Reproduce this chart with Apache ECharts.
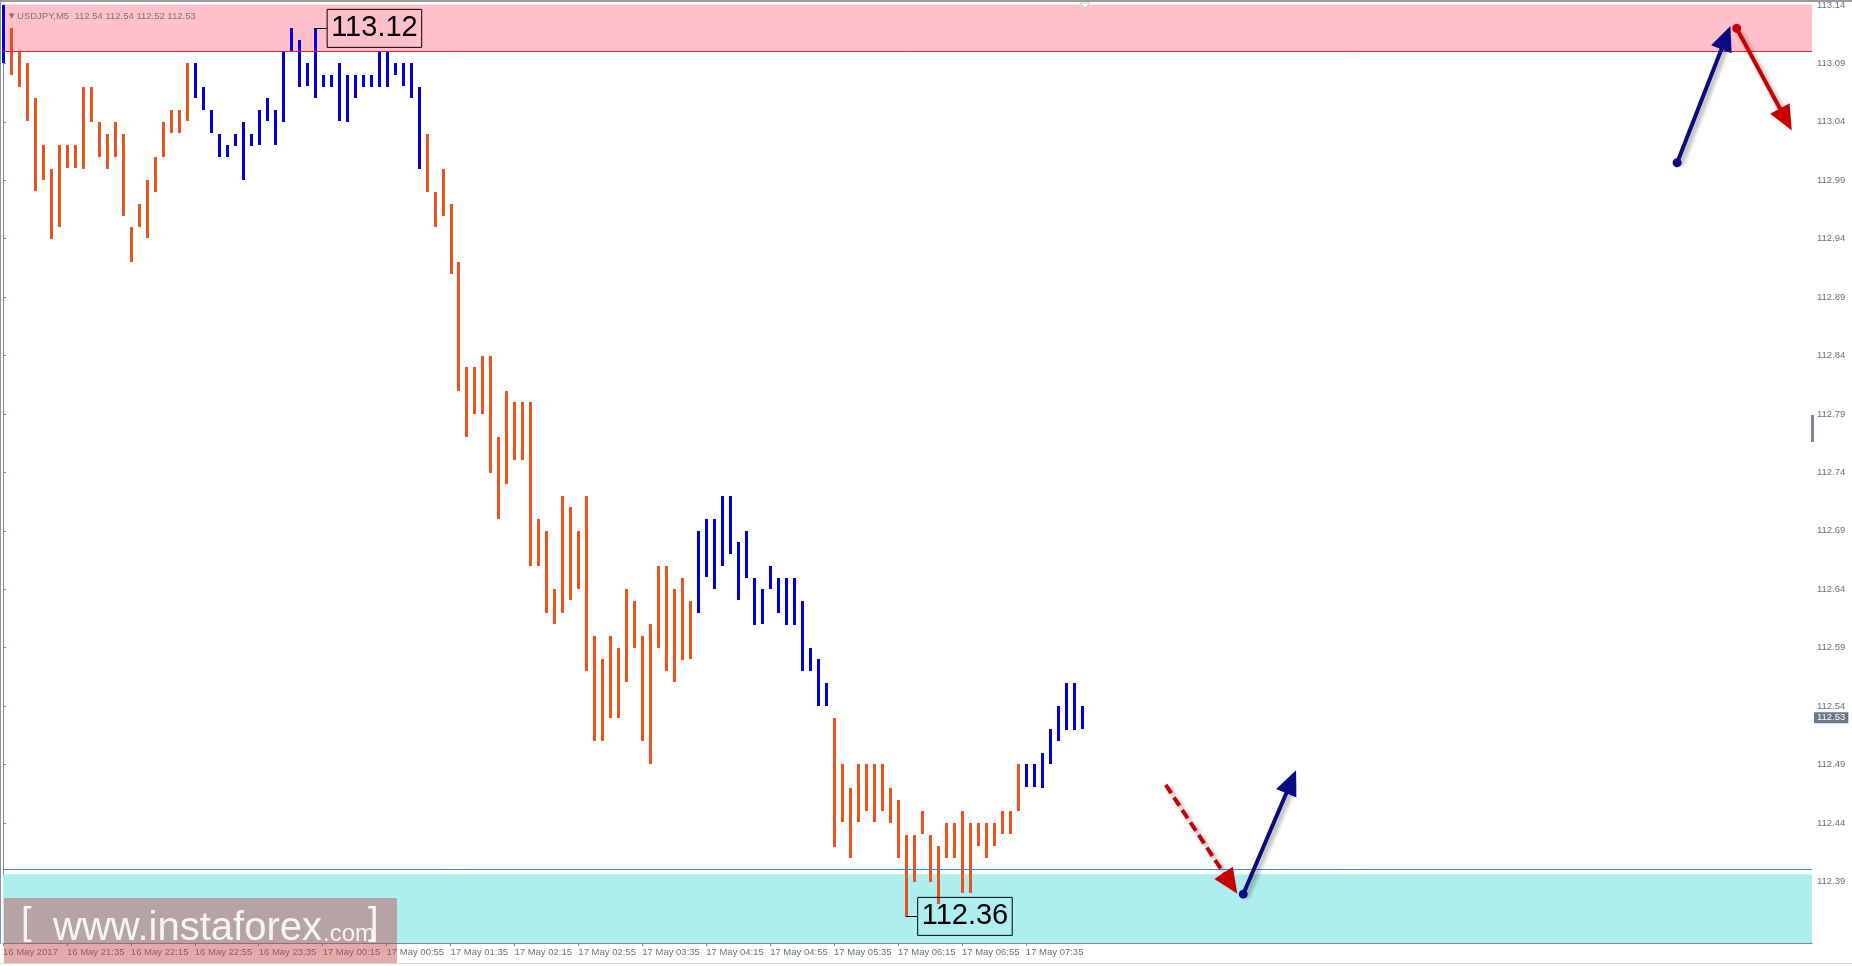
<!DOCTYPE html>
<html>
<head>
<meta charset="utf-8">
<title>USDJPY M5</title>
<script src="https://cdn.jsdelivr.net/npm/echarts@6/dist/echarts.min.js"></script>
<style>
  html, body { margin: 0; padding: 0; background: #fff; }
  #container { width: 1852px; height: 966px; }
</style>
</head>
<body>
<div id="container"></div>
<script>
// M5 bars, index 0 = 16 May 20:55
var highs = [
  113.14, 113.12, 113.10, 113.09, 113.06, 113.02, 113.00, 113.02, 113.02, 113.02,
  113.07, 113.07, 113.04, 113.03, 113.04, 113.03, 112.95, 112.97, 112.99, 113.01,
  113.04, 113.05, 113.05, 113.09, 113.09, 113.07, 113.05, 113.03, 113.02, 113.03,
  113.04, 113.03, 113.05, 113.06, 113.05, 113.10, 113.12, 113.11, 113.09, 113.12,
  113.08, 113.08, 113.09, 113.08, 113.08, 113.08, 113.08, 113.10, 113.10, 113.09,
  113.09, 113.09, 113.07, 113.03, 112.98, 113.00, 112.97, 112.92, 112.83, 112.83,
  112.84, 112.84, 112.77, 112.81, 112.80, 112.80, 112.80, 112.70, 112.69, 112.64,
  112.72, 112.71, 112.69, 112.72, 112.60, 112.58, 112.60, 112.59, 112.64, 112.63,
  112.60, 112.61, 112.66, 112.66, 112.64, 112.65, 112.63, 112.69, 112.70, 112.70,
  112.72, 112.72, 112.68, 112.69, 112.65, 112.64, 112.66, 112.65, 112.65, 112.65,
  112.63, 112.59, 112.58, 112.56, 112.53, 112.49, 112.47, 112.49, 112.49, 112.49,
  112.49, 112.47, 112.46, 112.43, 112.43, 112.45, 112.43, 112.42, 112.44, 112.44,
  112.45, 112.44, 112.44, 112.44, 112.44, 112.45, 112.45, 112.49, 112.49, 112.49,
  112.50, 112.52, 112.54, 112.56, 112.56, 112.54
]
var lows = [
  113.09, 113.08, 113.07, 113.04, 112.98, 112.99, 112.94, 112.95, 113.00, 113.00,
  113.00, 113.04, 113.01, 113.00, 113.01, 112.96, 112.92, 112.95, 112.94, 112.98,
  113.01, 113.03, 113.03, 113.04, 113.06, 113.05, 113.03, 113.01, 113.01, 113.02,
  112.99, 113.02, 113.02, 113.04, 113.02, 113.04, 113.10, 113.07, 113.07, 113.06,
  113.07, 113.07, 113.04, 113.04, 113.06, 113.07, 113.07, 113.07, 113.07, 113.08,
  113.07, 113.06, 113.00, 112.98, 112.95, 112.96, 112.91, 112.81, 112.77, 112.79,
  112.79, 112.74, 112.70, 112.73, 112.75, 112.75, 112.66, 112.66, 112.62, 112.61,
  112.62, 112.63, 112.64, 112.57, 112.51, 112.51, 112.53, 112.53, 112.56, 112.59,
  112.51, 112.49, 112.59, 112.57, 112.56, 112.58, 112.58, 112.62, 112.65, 112.64,
  112.66, 112.67, 112.63, 112.65, 112.61, 112.61, 112.64, 112.62, 112.61, 112.61,
  112.57, 112.57, 112.54, 112.54, 112.42, 112.44, 112.41, 112.44, 112.45, 112.44,
  112.45, 112.44, 112.41, 112.36, 112.39, 112.43, 112.39, 112.37, 112.41, 112.41,
  112.38, 112.38, 112.42, 112.41, 112.42, 112.43, 112.43, 112.45, 112.47, 112.47,
  112.47, 112.49, 112.51, 112.52, 112.52, 112.52
]
// 1 = blue (up wave), 0 = orange (down wave)
var ups = [
  1, 0, 0, 0, 0, 0, 0, 0, 0, 0,
  0, 0, 0, 0, 0, 0, 0, 0, 0, 0,
  0, 0, 0, 0, 1, 1, 1, 1, 1, 1,
  1, 1, 1, 1, 1, 1, 1, 1, 1, 1,
  1, 1, 1, 1, 1, 1, 1, 1, 1, 1,
  1, 1, 1, 0, 0, 0, 0, 0, 0, 0,
  0, 0, 0, 0, 0, 0, 0, 0, 0, 0,
  0, 0, 0, 0, 0, 0, 0, 0, 0, 0,
  0, 0, 0, 0, 0, 0, 0, 1, 1, 1,
  1, 1, 1, 1, 1, 1, 1, 1, 1, 1,
  1, 1, 1, 1, 0, 0, 0, 0, 0, 0,
  0, 0, 0, 0, 0, 0, 0, 0, 0, 0,
  0, 0, 0, 0, 0, 0, 0, 0, 1, 1,
  1, 1, 1, 1, 1, 1
]
var timeLabels = [
  '16 May 2017', '16 May 21:35', '16 May 22:15', '16 May 22:55', '16 May 23:35',
  '17 May 00:15', '17 May 00:55', '17 May 01:35', '17 May 02:15', '17 May 02:55',
  '17 May 03:35', '17 May 04:15', '17 May 04:55', '17 May 05:35', '17 May 06:15',
  '17 May 06:55', '17 May 07:35'
]
var priceTicks = [
  112.39, 112.44, 112.49, 112.54, 112.59, 112.64, 112.69, 112.74,
  112.79, 112.84, 112.89, 112.94, 112.99, 113.04, 113.09, 113.14
]
var lastPrice = 112.53
var highMark = { bar: 39, price: 113.12 }
var lowMark = { bar: 113, price: 112.36 }
var priceRange = [112.3372, 113.1404]
var sellZone = [113.10, 113.1404]
var buyZone = [112.3372, 112.396]
// forecast arrows: [x0, p0, x1, p1] in bar index / price
var arrowUpTop = [209.5, 113.005, 215.6, 113.112]
var arrowDownTop = [216.95, 113.12, 223.1, 113.042]
var arrowDownLow = [145.5, 112.4726, 153.6, 112.3883]
var arrowUpLow = [155.2, 112.379, 161.2, 112.4752]

var ORANGE = '#e8531f'
var BLUE = '#0000e0'
var NAVY = '#0a0a82'
var RED = '#c80000'
var AXIS = '#7d8893'
var LABEL = '#65717d'
var MARK = 'rgba(255,255,255,0.88)'

var barData = highs.map(function(h, i) { return [i, h, lows[i], ups[i]] })
var labelBars = timeLabels.map(function(t, k) { return k * 8 })

function renderBar(params, api) {
  var i = api.value(0)
  var top = api.coord([i, api.value(1)])
  var bot = api.coord([i, api.value(2)])
  return {
    type: 'rect',
    shape: { x: Math.round(top[0]) - 1, y: Math.round(top[1]), width: 3, height: Math.max(Math.round(bot[1] - top[1]), 2) },
    style: { fill: api.value(3) === 1 ? BLUE : ORANGE }
  }
}

function arrowLine(a, color, dashed) {
  return [
    { coord: [a[0], a[1]], symbol: dashed ? 'none' : 'circle', symbolSize: 9,
      lineStyle: { color: color, width: 4, type: dashed ? [10, 5] : 'solid' } },
    { coord: [a[2], a[3]], symbol: 'triangle', symbolSize: [22, 25] }
  ]
}

var chart = echarts.init(document.getElementById('container'))
chart.setOption({
  animation: false,
  backgroundColor: '#ffffff',
  textStyle: { fontFamily: 'Liberation Sans' },
  title: {
    text: '{t|▼} USDJPY,M5  112.54 112.54 112.52 112.53',
    left: 4,
    top: 6,
    textStyle: {
      fontSize: 9.5, fontWeight: 'normal', color: '#777777', fontFamily: 'Liberation Sans',
      rich: { t: { fontSize: 7, color: '#777777', fontFamily: 'DejaVu Sans' } }
    }
  },
  grid: { left: 1, right: 40, top: 0, bottom: 23 },
  xAxis: {
    type: 'value',
    min: 0,
    max: 1811 / 8,
    splitLine: { show: false },
    axisLine: { lineStyle: { color: AXIS, width: 1 } },
    axisTick: { customValues: labelBars, length: 3, lineStyle: { color: AXIS } },
    axisLabel: {
      customValues: labelBars,
      formatter: function(v) { return timeLabels[Math.round(v / 8)] || '' },
      align: 'left',
      margin: 4,
      color: LABEL,
      fontSize: 9.5,
      fontFamily: 'Liberation Sans'
    }
  },
  yAxis: {
    type: 'value',
    position: 'right',
    min: priceRange[0],
    max: priceRange[1],
    splitLine: { show: false },
    axisLine: { show: true, lineStyle: { color: AXIS, width: 1 } },
    axisTick: { show: true, customValues: priceTicks, length: 3, lineStyle: { color: AXIS } },
    axisLabel: {
      customValues: priceTicks,
      formatter: function(v) { return v.toFixed(2) },
      margin: 5,
      padding: [8, 0, 0, 0],
      color: LABEL,
      fontSize: 9.5,
      fontFamily: 'Liberation Sans'
    }
  },
  series: [
    {
      name: 'zones',
      type: 'line',
      data: [],
      clip: false,
      silent: true,
      markArea: {
        silent: true,
        data: [
          [{ yAxis: sellZone[0], itemStyle: { color: '#ffc0cb' } }, { yAxis: sellZone[1] }],
          [{ yAxis: buyZone[0], itemStyle: { color: '#afeeee' } }, { yAxis: buyZone[1] }]
        ]
      },
      markLine: {
        silent: true,
        symbol: 'none',
        label: { show: false },
        data: [
          { yAxis: sellZone[0], lineStyle: { color: '#d42a2a', width: 1, type: 'solid' } },
          { yAxis: buyZone[1], lineStyle: { color: '#3c8fd2', width: 1, type: 'solid' } }
        ]
      }
    },
    {
      name: 'USDJPY',
      type: 'custom',
      renderItem: renderBar,
      encode: { x: 0, y: [1, 2] },
      data: barData,
      z: 3
    },
    {
      name: 'marks',
      type: 'line',
      data: [],
      clip: false,
      silent: true,
      z: 4,
      markLine: {
        silent: true,
        symbol: 'none',
        label: { show: false },
        lineStyle: { color: '#000000', width: 1, type: 'solid' },
        data: [
          [{ coord: [highMark.bar, highMark.price] }, { coord: [highMark.bar + 1.5, highMark.price] }],
          [{ coord: [lowMark.bar, lowMark.price] }, { coord: [lowMark.bar + 1.4, lowMark.price] }],
          {
            yAxis: lastPrice,
            lineStyle: { color: 'rgba(0,0,0,0)', width: 0 },
            label: {
              show: true, position: 'end', distance: 2,
              formatter: lastPrice.toFixed(2),
              color: '#ffffff', backgroundColor: '#6c7986',
              fontSize: 9.5, padding: [1, 3, 0, 3]
            }
          }
        ]
      },
      markPoint: {
        silent: true,
        symbol: 'rect',
        symbolSize: 1,
        itemStyle: { color: 'rgba(0,0,0,0)' },
        label: {
          show: true,
          position: 'right',
          distance: 0,
          color: '#000000',
          fontSize: 29,
          fontFamily: 'Liberation Sans',
          lineHeight: 34,
          padding: [3, 4, 1, 4],
          borderColor: '#000000',
          borderWidth: 1,
          formatter: function(p) { return p.data.value.toFixed(2) }
        },
        data: [
          { coord: [highMark.bar + 1.5, highMark.price], value: highMark.price },
          { coord: [lowMark.bar + 1.4, lowMark.price], value: lowMark.price }
        ]
      }
    },
    {
      name: 'forecast',
      type: 'line',
      data: [],
      clip: false,
      silent: true,
      z: 5,
      markLine: {
        silent: true,
        label: { show: false },
        lineStyle: { width: 4, shadowBlur: 4, shadowColor: 'rgba(0,0,0,0.35)', shadowOffsetX: 3, shadowOffsetY: 3 },
        data: [
          arrowLine(arrowUpTop, NAVY, false),
          arrowLine(arrowDownTop, RED, false),
          arrowLine(arrowDownLow, RED, true),
          arrowLine(arrowUpLow, NAVY, false)
        ]
      }
    }
  ],
  graphic: [
    { type: 'rect', x: 0, y: 0, shape: { width: 1852, height: 2 }, style: { fill: '#9c9c9c' }, z: 10 },
    { type: 'rect', x: 0, y: 0, shape: { width: 1, height: 944 }, style: { fill: '#8793a0' }, z: 10 },
    { type: 'rect', x: 1811, y: 415, shape: { width: 3, height: 27 }, style: { fill: '#7d8893' }, z: 10 },
    { type: 'rect', x: 0, y: 963, shape: { width: 1852, height: 1 }, style: { fill: '#dadada' }, z: 10 },
    { type: 'polygon', shape: { points: [[1080, 3], [1090, 3], [1085, 8]] }, style: { fill: '#ffffff', stroke: '#c8c8c8' }, z: 10 },
    // instaforex watermark
    { type: 'rect', x: 4, y: 898, shape: { width: 393, height: 65 }, style: { fill: 'rgba(190,70,70,0.45)' }, z: 20 },
    { type: 'text', x: 21, y: 905, style: { text: '[', font: '38px "Liberation Sans"', fill: MARK }, z: 21 },
    { type: 'text', x: 53, y: 909, style: { text: 'www.instaforex', font: '40px "Liberation Sans"', fill: MARK }, z: 21 },
    { type: 'text', x: 323, y: 922, style: { text: '.com', font: '24px "Liberation Sans"', fill: MARK }, z: 21 },
    { type: 'text', x: 368, y: 905, style: { text: ']', font: '38px "Liberation Sans"', fill: MARK }, z: 21 }
  ]
})
</script>
</body>
</html>
